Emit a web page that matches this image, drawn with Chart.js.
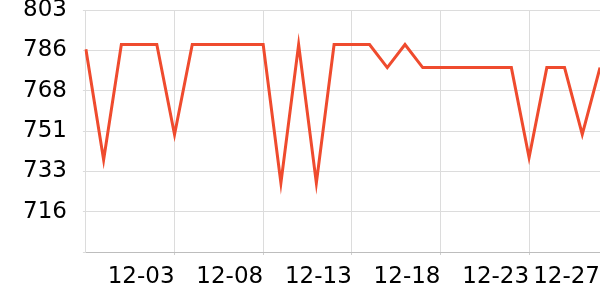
<!DOCTYPE html>
<html>
<head>
<meta charset="utf-8">
<script src="https://cdn.jsdelivr.net/npm/chart.js@4/dist/chart.umd.min.js"></script>
<style>
html,body{margin:0;padding:0;background:#fff;}
#wrap{width:600px;height:300px;}
</style>
</head>
<body>
<div id="wrap"><canvas id="c" width="600" height="300"></canvas></div>
<script>
const categories = ['11-28','11-29','11-30','12-01','12-02','12-03','12-04','12-05','12-06','12-07',
  '12-08','12-09','12-10','12-11','12-12','12-13','12-14','12-15','12-16','12-17',
  '12-18','12-19','12-20','12-21','12-22','12-23','12-24','12-25','12-26','12-27'];
const values = [786,738,788,788,788,749,788,788,788,788,
  788,728,788,728,788,788,788,778,788,778,
  778,778,778,778,778,739,778,778,749,778];
const shownXLabels = ['12-03','12-08','12-13','12-18','12-23','12-27'];
const yMin = 698, yMax = 803, yStep = 17.5;

const FONT = {family: 'DejaVu Sans', size: 23};

new Chart(document.getElementById('c'), {
  type: 'line',
  data: {
    labels: categories,
    datasets: [{
      data: values,
      borderColor: '#ef4b2e',
      borderWidth: 3,
      pointRadius: 0,
      fill: false,
      tension: 0
    }]
  },
  options: {
    responsive: false,
    animation: false,
    layout: {padding: {left: 7, top: 0, right: 0, bottom: 0}},
    plugins: {legend: {display: false}, tooltip: {enabled: false}},
    scales: {
      x: {
        type: 'category',
        border: {color: '#bdbdbd', width: 1},
        grid: {
          color: ctx => (ctx.tick && shownXLabels.includes(categories[ctx.index])) ? '#dcdcdc' : 'rgba(0,0,0,0)',
          tickLength: 3,
          tickColor: ctx => (ctx.tick && shownXLabels.includes(categories[ctx.index])) ? '#cfcfcf' : 'rgba(0,0,0,0)'
        },
        ticks: {
          autoSkip: false,
          maxRotation: 0,
          minRotation: 0,
          align: 'end',
          padding: 8,
          color: '#000',
          font: FONT,
          callback: function(v, i) { const l = categories[i]; return shownXLabels.includes(l) ? l : ''; }
        },
        afterFit: s => { s.paddingLeft = 0; s.paddingRight = 0; s.height = 48; }
      },
      y: {
        min: yMin,
        max: yMax,
        border: {color: '#dcdcdc', width: 1},
        grid: {color: '#dcdcdc', tickLength: 3},
        ticks: {
          stepSize: yStep,
          padding: 16,
          color: '#000',
          font: FONT,
          callback: function(v, i) { return i === 0 ? '' : String(Math.round(v)); }
        },
        afterFit: s => { s.paddingTop = 10; s.paddingBottom = 0; }
      }
    }
  }
});
</script>
</body>
</html>
